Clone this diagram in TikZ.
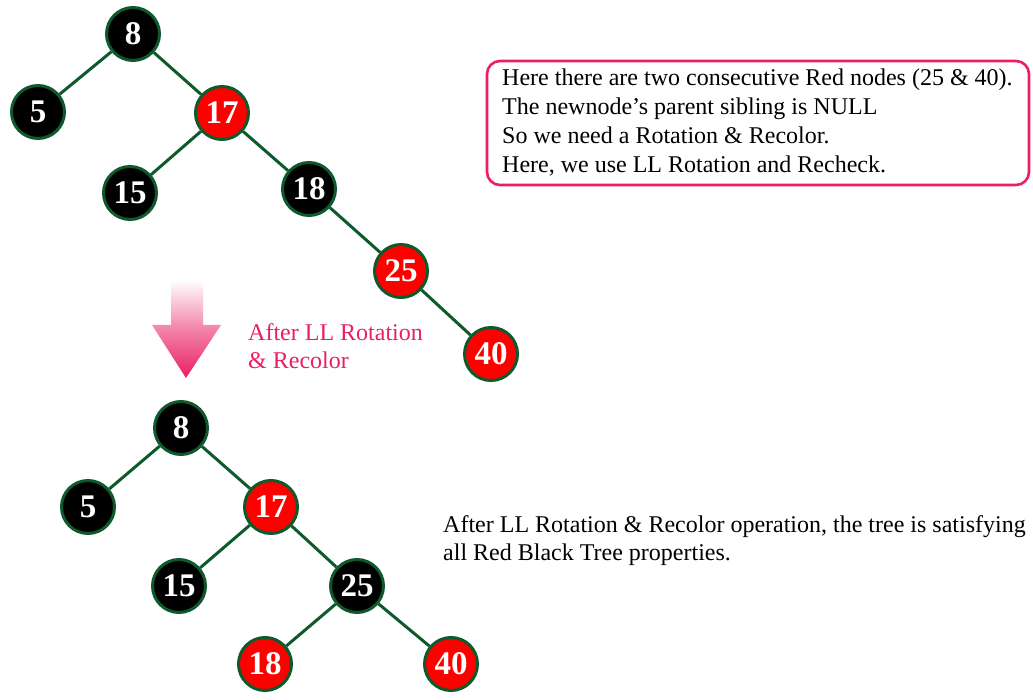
\documentclass[tikz,border=0pt]{standalone}
\usepackage{fontspec}
\setmainfont{Liberation Serif}
\usetikzlibrary{shadings}
\definecolor{edgegreen}{HTML}{0E5A2C}
\definecolor{nred}{HTML}{FF0000}
\definecolor{pinkc}{HTML}{E91E63}
\begin{document}
\begin{tikzpicture}[x=1pt,y=-1pt,
  rbnode/.style={circle,draw=edgegreen,line width=3pt,minimum size=53pt,inner sep=0pt,
    text=white,font=\bfseries\fontsize{33}{33}\selectfont},
  blk/.style={rbnode,fill=black},
  red/.style={rbnode,fill=nred},
  edge/.style={draw=edgegreen,line width=3pt},
  txt/.style={font=\fontsize{24}{29}\selectfont,inner sep=0pt,anchor=base west}
]
\useasboundingbox (0,0) rectangle (1033,700);
% top tree
\node[blk] (a8) at (133,34) {8};
\node[blk] (a5) at (38,112) {5};
\node[red] (a17) at (222,113) {17};
\node[blk] (a15) at (130,193) {15};
\node[blk] (a18) at (309,189) {18};
\node[red] (a25) at (401,271) {25};
\node[red] (a40) at (491,354) {40};
\draw[edge] (a8) -- (a5);
\draw[edge] (a8) -- (a17);
\draw[edge] (a17) -- (a15);
\draw[edge] (a17) -- (a18);
\draw[edge] (a18) -- (a25);
\draw[edge] (a25) -- (a40);
% bottom tree
\node[blk] (b8) at (181,428) {8};
\node[blk] (b5) at (88,507) {5};
\node[red] (b17) at (271,507) {17};
\node[blk] (b15) at (179,586) {15};
\node[blk] (b25) at (357,586) {25};
\node[red] (b18) at (265,664) {18};
\node[red] (b40) at (451,664) {40};
\draw[edge] (b8) -- (b5);
\draw[edge] (b8) -- (b17);
\draw[edge] (b17) -- (b15);
\draw[edge] (b17) -- (b25);
\draw[edge] (b25) -- (b18);
\draw[edge] (b25) -- (b40);
% arrow
\shade[top color=white,bottom color=pinkc,middle color=pinkc!55]
  (171,280) -- (203,280) -- (203,325) -- (221,325) -- (186,378) -- (152,325) -- (171,325) -- cycle;
\node[txt,text=pinkc] (lbl1) at (248,341) {After LL Rotation};
\node[txt,text=pinkc] (lbl2) at (248,369) {\& Recolor};
% info box
\draw[pinkc,line width=2.6pt,rounded corners=13pt] (487,61) rectangle (1029,185);
\node[txt] (info1) at (502,86) {Here there are two consecutive Red nodes (25 \& 40).};
\node[txt] (info2) at (502,115) {The newnode’s parent sibling is NULL};
\node[txt] (info3) at (502,144) {So we need a Rotation \& Recolor.};
\node[txt] (info4) at (502,173) {Here, we use LL Rotation and Recheck.};
\node[txt] (res1) at (443,532) {After LL Rotation \& Recolor operation, the tree is satisfying};
\node[txt] (res2) at (443,560) {all Red Black Tree properties.};
\end{tikzpicture}
\end{document}
